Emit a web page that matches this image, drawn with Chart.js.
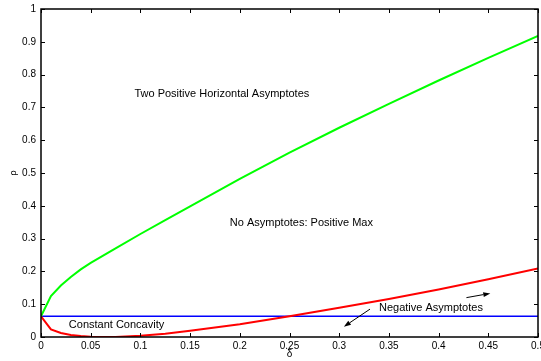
<!DOCTYPE html>
<html>
<head>
<meta charset="utf-8">
<script src="https://cdn.jsdelivr.net/npm/chart.js@4/dist/chart.umd.min.js"></script>
<style>
  html, body { margin: 0; padding: 0; background: #fff; }
  canvas { display: block; }
</style>
</head>
<body>
<canvas id="c" width="541" height="361"></canvas>
<script>
// --- Data ---
const deltaGrid = [0, 0.01, 0.02, 0.03, 0.04, 0.05, 0.075, 0.1, 0.125, 0.15, 0.2, 0.25, 0.3, 0.35, 0.4, 0.45, 0.5];
const rhoGreen  = [0.063, 0.125, 0.157, 0.183, 0.206, 0.226, 0.270, 0.314, 0.356, 0.398, 0.482, 0.562, 0.638, 0.711, 0.782, 0.851, 0.918];
const rhoRed    = [0.063, 0.023, 0.012, 0.006, 0.003, 0.001, 0.000, 0.004, 0.010, 0.019, 0.039, 0.063, 0.089, 0.116, 0.145, 0.176, 0.209];
const deltaBlue = [0, 0.5];
const rhoBlue   = [0.063, 0.063];

const xTicks = [0, 0.05, 0.1, 0.15, 0.2, 0.25, 0.3, 0.35, 0.4, 0.45, 0.5];
const yTicks = [0, 0.1, 0.2, 0.3, 0.4, 0.5, 0.6, 0.7, 0.8, 0.9, 1];

// region labels: [text, delta (left edge), rho (middle)]
const regionLabels = [
  ['Two Positive Horizontal Asymptotes', 0.094, 0.741],
  ['No Asymptotes: Positive Max', 0.190, 0.348],
  ['Constant Concavity', 0.028, 0.037],
  ['Negative Asymptotes', 0.340, 0.089],
];
// arrows: [fromDelta, fromRho, toDelta, toRho]
const arrows = [
  [0.331, 0.085, 0.3047, 0.0314],
  [0.428, 0.120, 0.452, 0.133],
];

const FONT = '"Liberation Sans", Arial, Helvetica, sans-serif';

function pts(xs, ys) {
  return xs.map((x, i) => ({ x, y: ys[i] }));
}

// --- MATLAB-like box with inward ticks, plus text/arrow annotations ---
const matlabAxes = {
  id: 'matlabAxes',
  afterDatasetsDraw(chart) {
    const { ctx, chartArea: a, scales: { x, y } } = chart;
    const tl = 4;
    ctx.save();
    ctx.strokeStyle = '#000';
    ctx.lineWidth = 1;
    ctx.beginPath();
    xTicks.forEach(v => {
      const px = Math.round(x.getPixelForValue(v)) + 0.5;
      ctx.moveTo(px, a.bottom); ctx.lineTo(px, a.bottom - tl);
      ctx.moveTo(px, a.top); ctx.lineTo(px, a.top + tl);
    });
    yTicks.forEach(v => {
      const py = Math.round(y.getPixelForValue(v)) + 0.5;
      ctx.moveTo(a.left, py); ctx.lineTo(a.left + tl, py);
      ctx.moveTo(a.right, py); ctx.lineTo(a.right - tl, py);
    });
    ctx.stroke();
    ctx.lineWidth = 1.5;
    ctx.strokeRect(a.left, a.top, a.right - a.left, a.bottom - a.top);

    // labels
    ctx.fillStyle = '#000';
    ctx.font = '11px ' + FONT;
    ctx.textBaseline = 'middle';
    ctx.textAlign = 'left';
    regionLabels.forEach(([t, dx, ry]) => {
      ctx.fillText(t, x.getPixelForValue(dx), y.getPixelForValue(ry));
    });

    // arrows
    ctx.lineWidth = 1;
    arrows.forEach(([x0, y0, x1, y1]) => {
      const ax = x.getPixelForValue(x0), ay = y.getPixelForValue(y0);
      const bx = x.getPixelForValue(x1), by = y.getPixelForValue(y1);
      const ang = Math.atan2(by - ay, bx - ax);
      const hl = 7, hw = 2.5;
      const baseX = bx - hl * Math.cos(ang), baseY = by - hl * Math.sin(ang);
      ctx.beginPath();
      ctx.moveTo(ax, ay); ctx.lineTo(baseX, baseY);
      ctx.stroke();
      ctx.beginPath();
      ctx.moveTo(bx, by);
      ctx.lineTo(baseX + hw * Math.sin(ang), baseY - hw * Math.cos(ang));
      ctx.lineTo(baseX - hw * Math.sin(ang), baseY + hw * Math.cos(ang));
      ctx.closePath();
      ctx.fill();
    });
    ctx.restore();
  }
};

new Chart(document.getElementById('c'), {
  type: 'line',
  data: {
    datasets: [
      { data: pts(deltaGrid, rhoGreen), borderColor: '#00ff00', borderWidth: 2 },
      { data: pts(deltaGrid, rhoRed), borderColor: '#ff0000', borderWidth: 2 },
      { data: pts(deltaBlue, rhoBlue), borderColor: '#0000ff', borderWidth: 1.5 },
    ].map(ds => ({ ...ds, pointRadius: 0, tension: 0, fill: false })),
  },
  options: {
    responsive: false,
    animation: false,
    events: [],
    layout: { padding: { left: 0, right: 3, top: 9, bottom: 0 } },
    plugins: { legend: { display: false }, tooltip: { enabled: false } },
    scales: {
      x: {
        type: 'linear',
        min: 0, max: 0.5,
        grid: { display: false, drawTicks: false },
        border: { display: false },
        afterBuildTicks: s => { s.ticks = xTicks.map(v => ({ value: v })); },
        ticks: {
          autoSkip: false, maxRotation: 0, padding: 3, color: '#000',
          font: { family: FONT, size: 10 },
          callback: v => String(v),
        },
        title: { display: true, text: 'δ', color: '#000', font: { family: FONT, size: 10 }, padding: { top: 0, bottom: 1 } },
        afterFit: s => { s.height = 24; s.paddingLeft = 0; s.paddingRight = 0; },
      },
      y: {
        type: 'linear',
        min: 0, max: 1,
        grid: { display: false, drawTicks: false },
        border: { display: false },
        afterBuildTicks: s => { s.ticks = yTicks.map(v => ({ value: v })); },
        ticks: {
          autoSkip: false, padding: 5, color: '#000',
          font: { family: FONT, size: 10 },
          callback: v => String(v),
        },
        title: { display: true, text: 'ρ', color: '#000', font: { family: FONT, size: 9 }, padding: { top: 8, bottom: 0 } },
        afterFit: s => { s.width = 41; s.paddingTop = 0; s.paddingBottom = 0; },
      },
    },
  },
  plugins: [matlabAxes],
});
</script>
</body>
</html>
